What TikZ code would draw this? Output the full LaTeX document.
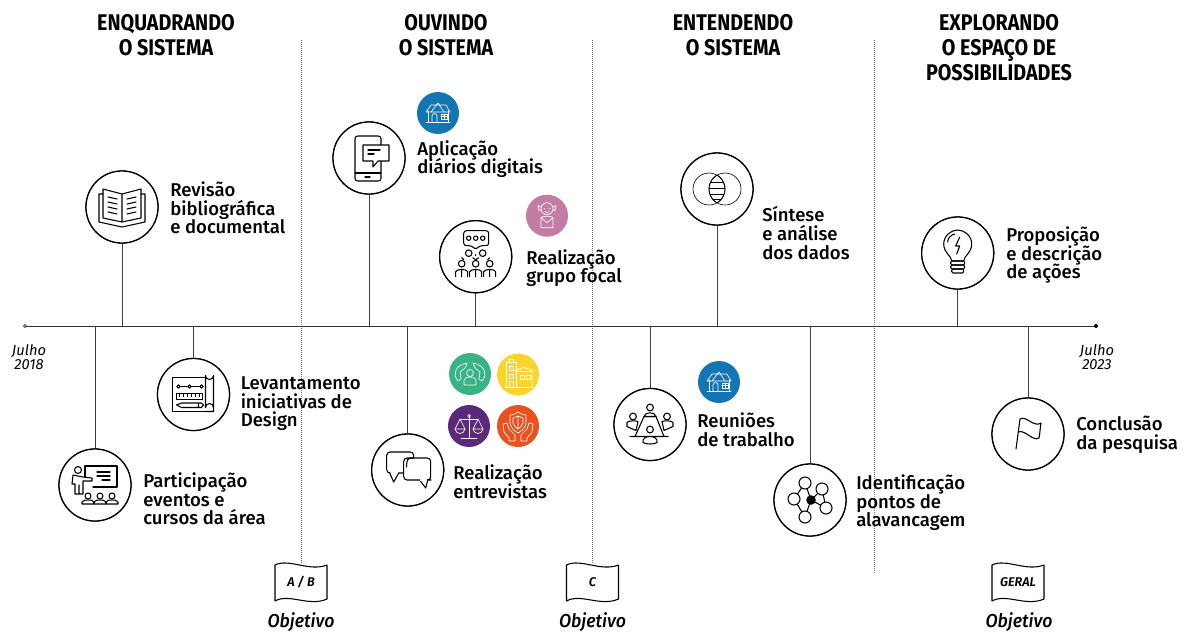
\documentclass[tikz,border=0pt]{standalone}
\usepackage{fontspec}
\setmainfont{Fira Sans}
\setlength{\lineskiplimit}{-20pt}
\newfontfamily\lblfont{Fira Sans}[UprightFont=* Medium,ItalicFont=* SemiBold Italic]
\newfontfamily\headfont{Fira Sans}[UprightFont=* Bold,FakeStretch=0.87]
\newfontfamily\litfont{Fira Sans}[ItalicFont=* Italic]
\newfontfamily\objfont{Fira Sans}[ItalicFont=* Medium Italic,FakeStretch=0.95]
\definecolor{cblue}{RGB}{20,117,181}
\definecolor{cpink}{RGB}{195,124,163}
\definecolor{cgreen}{RGB}{55,179,132}
\definecolor{cyellow}{RGB}{253,211,46}
\definecolor{cpurple}{RGB}{90,42,120}
\definecolor{corange}{RGB}{233,81,31}
\tikzset{
 ring/.style={circle,draw=black,line width=.95pt,minimum size=54pt,inner sep=0pt,fill=white},
 badge/.style={circle,minimum size=31.5pt,inner sep=0pt,fill=#1},
 lbl/.style={anchor=west,align=left,inner sep=0pt,font=\lblfont\fontsize{13.9}{13.9}\selectfont},
 head/.style={align=center,inner sep=0pt,font=\headfont\fontsize{17}{19}\selectfont},
 dates/.style={align=center,inner sep=0pt,font=\litfont\itshape\fontsize{11}{10.5}\selectfont},
 obj/.style={inner sep=0pt,font=\objfont\itshape\fontsize{14}{14}\selectfont},
 flagtxt/.style={inner sep=0pt,font=\lblfont\itshape\fontsize{9.5}{10}\selectfont},
 stem/.style={line width=.55pt,draw=black!75},
 sep/.style={line width=.5pt,draw=black!55,densely dotted},
 ik/.style={line width=.8pt,draw=black,line join=round,line cap=round},
 wk/.style={line width=.5pt,draw=white,line join=round,line cap=round},
 pics/housei/.style={code={
   \draw[wk] (-12,9)--(12,9) (-10,9)--(-10,-2) (10,9)--(10,-2);
   \draw[wk] (-12,-1)--(-7,-8)--(8,-8)--(12,-1)--(-12,-1);
   \draw[wk] (-7,-1)--(0,-10)--(6,-1);
   \draw[wk] (-6,9)--(-6,3) arc[start angle=180,end angle=360,radius=2.5] --(-1,9);
   \draw[wk] (3,1) rectangle (9,6) (6,1)--(6,6) (3,3.5)--(9,3.5);
 }},
 pics/bookicon/.style={code={
   \draw[ik] (0,-13)--(-19,-18)--(-19,11)--(0,15)--(19,11)--(19,-18)--cycle (0,-13)--(0,15);
   \draw[ik] (-19,-13)--(-23,-13)--(-23,15)--(0,20)--(23,15)--(23,-13)--(19,-13);
   \foreach \y in {-10,-5,0,5}{\draw[ik] (-14,\y)--(-5,\y+2) (14,\y)--(5,\y+2);}
 }},
 pics/planicon/.style={code={
   \draw[ik] (12,-17)--(-21,-17)--(-21,17)--(12,17) ;
   \draw[ik] (12,13)--(12,-19) arc[start angle=180,end angle=0,radius=4] --(20,15)--(20,17)--(12,17) ;
   \draw[ik] (12,13) arc[start angle=-180,end angle=0,radius=4];
   \draw[ik] (-16,-8)--(9,-8);
   \foreach \x in {-15,-4,8}{\draw[ik,fill=white] (\x,-8) circle[radius=1.7];}
   \draw[ik] (-17,-1) rectangle (9,5);
   \foreach \x in {-14,-10,-6,-2,2,6}{\draw[ik] (\x,-1)--(\x,2);}
   \draw[ik] (-12,8.5)--(8,8.5)--(10,10.5)--(8,13)--(-12,13)--(-17,10.5)--cycle (5,8.5)--(5,13);
 }},
 pics/classicon/.style={code={
   \draw[ik] (-10,-8)--(-10,-19)--(22,-19)--(22,2)--(-2,2);
   \draw[ik] (2,-13)--(15,-13) (2,-9)--(15,-9) (7,-5)--(15,-5);
   \draw[ik] (-17,-15) circle[radius=3.5];
   \draw[ik] (-3,-7)--(-12,-8)--(-22,-10)--(-23,-1)--(-20,-1)--(-20,9)--(-12,9)--(-12,-4)--(-3,-4)--cycle (-16,0)--(-16,9);
   \foreach \x in {-7,5,17}{
    \draw[ik] (\x,11) circle[radius=3];
    \draw[ik] (\x-6,19)--(\x-6,17) .. controls (\x-5,15) and (\x-2,15) .. (\x,15) .. controls (\x+2,15) and (\x+5,15) .. (\x+6,17)--(\x+6,19)--cycle;}
 }},
 pics/phoneicon/.style={code={
   \draw[ik,rounded corners=2pt] (-14,-22) rectangle (12,23);
   \draw[ik] (-14,15)--(12,15) (-4,19)--(1,19);
   \draw[ik,fill=white] (-6,-13)--(20,-13)--(20,3)--(9,3)--(4,9)--(4,3)--(-6,3)--cycle;
   \draw[ik] (-1,-8)--(11,-8) (-1,-4)--(5,-4);
 }},
 pics/focalicon/.style={code={
   \draw[ik,rounded corners=2pt] (-12,-26)--(13,-26)--(13,-11)--(4,-11)--(0,-7)--(-4,-11)--(-12,-11)--cycle;
   \foreach \x in {-7,0,7}{\draw[ik] (\x,-18.5) circle[radius=2.2];}
   \foreach \x in {-7,7}{\draw[ik] (\x,-3.5) circle[radius=3.3];}
   \foreach \x in {-14,0,14}{
     \draw[ik] (\x,7) circle[radius=3.3];
     \draw[ik] (\x-6,20)--(\x-6,15) .. controls (\x-5,12) and (\x+5,12) .. (\x+6,15)--(\x+6,20) (\x,14)--(\x,20);}
   \draw[ik] (-12,3)--(-14,1) (12,3)--(14,1) (-3,1)--(0,3)--(3,1) (0,-2)--(0,-1);
 }},
 pics/talkicon/.style={code={
   \draw[ik,rounded corners=2.5pt] (-9,3)--(6,3)--(6,-18)--(-21,-18)--(-21,3)--(-18,3);
   \draw[ik] (-18,3)--(-14,12)--(-9,3);
   \draw[ik,fill=white,rounded corners=2.5pt] (12,10)--(-4,10)--(-4,-12)--(23,-12)--(23,10)--(20,10)--(12,10);
   \draw[ik,fill=white] (12,10)--(18,18)--(20,10);
   \draw[line width=1.2pt,draw=white] (12.5,10)--(19.5,10);
   \draw[ik,rounded corners=2pt] (6,-12)--(1,-12)--(-1,-9)--(-1,-3);
 }},
 pics/meeticon/.style={code={
   \draw[ik] (-6,-8)--(6,-8)--(14,12)--(-15,12)--cycle (-15,12)--(-20,12) (14,12)--(18,12);
   \foreach \p in {(0,-17),(-17,-8),(17,-8),(0,5)}{\draw[ik,fill=white] \p circle[radius=3.4];}
   \draw[ik,fill=white] (-6,-8) .. controls (-5,-13) and (5,-13) .. (6,-8)--cycle;
   \draw[ik,fill=white] (-7,18) .. controls (-9,10) and (9,10) .. (7,18) .. controls (5,20) and (-5,20) .. (-7,18) --cycle;
   \draw[ik,fill=white] (-23,2)--(-23,-2) .. controls (-22,-4) and (-14,-4) .. (-12,-3)--(-14,6)--cycle;
   \draw[ik,fill=white] (23,2)--(23,-2) .. controls (22,-4) and (14,-4) .. (12,-3)--(14,6)--cycle;
 }},
 pics/neticon/.style={code={
   \draw[ik] (-5,-17)--(1,0)--(-5,17)--(-16,-1)--(-5,-17) (12,-11)--(1,0)--(16,8)--(12,-11);
   \foreach \p in {(-5,-17),(-16,-1),(12,-11),(16,8),(-5,17)}{\draw[ik,fill=white] \p circle[radius=6];}
   \fill[black] (1,0) circle[radius=4.8];
 }},
 pics/vennicon/.style={code={
   \draw[line width=.45pt,draw=black] (-8,0) circle[radius=16] (8,0) circle[radius=16];
   \begin{scope}
   \clip (-8,0) circle[radius=16];
   \clip (8,0) circle[radius=16];
   \foreach \y in {-7,-1,5,10.5}{\draw[line width=.6pt,draw=black] (-9,\y)--(9,\y);}
   \end{scope}
   \begin{scope}
   \clip (-8,0) circle[radius=16];
   \draw[line width=.6pt,draw=black] (8,0) circle[radius=16];
   \end{scope}
   \begin{scope}
   \clip (8,0) circle[radius=16];
   \draw[line width=.6pt,draw=black] (-8,0) circle[radius=16];
   \end{scope}
 }},
 pics/lampicon/.style={code={
   \draw[ik] (-6,8) .. controls (-6,3) and (-14,0) .. (-14,-9) .. controls (-14,-17) and (-7,-23) .. (0,-23) .. controls (7,-23) and (14,-17) .. (14,-9) .. controls (14,0) and (6,3) .. (6,8)--cycle;
   \draw[ik] (-10,-11) .. controls (-10,-15) and (-7,-18) .. (-3,-19);
   \draw[ik] (2,-16)--(-2,-7)--(2,-7)--(-1,1);
   \draw[ik,rounded corners=1pt] (-7,8) rectangle (7,12);
   \draw[ik,rounded corners=1pt] (-7,12) rectangle (7,16);
   \draw[ik,rounded corners=1pt] (-6,16) rectangle (6,20);
 }},
 pics/flagicon/.style={code={
   \draw[ik] (-12,15)--(-8,-15) .. controls (-2,-19) and (6,-6) .. (13,-11) .. controls (12,-6) and (12,0) .. (11,4) .. controls (5,8) and (-3,-5) .. (-10,-2);
 }},
 pics/bannericon/.style={code={
   \draw[line width=.8pt,draw=black,line join=round] (-26,-17) .. controls (-12,-24) and (8,-10) .. (26,-17) -- (26,17) .. controls (8,25) and (-12,11) .. (-26,19) -- cycle;
 }},
}
\begin{document}
\begin{tikzpicture}[x=.75pt,y=-.75pt]
\useasboundingbox (0,0) rectangle (1185,633);
% separators
\coordinate (s1t) at (301,40); \coordinate (s1b) at (301,563);
\coordinate (s2t) at (592,40); \coordinate (s2b) at (592,563);
\coordinate (s3t) at (874,40); \coordinate (s3b) at (874,573);
\draw[sep] (s1t)--(s1b);
\draw[sep] (s2t)--(s2b);
\draw[sep] (s3t)--(s3b);
% axis
\coordinate (axL) at (25,326); \coordinate (axR) at (1096,326);
\draw[line width=.6pt,draw=black!80] (axL)--(axR);
\draw[line width=.4pt,fill=white] (axL) circle[radius=1.6];
\fill (axR) circle[radius=2];
% rings
\node[ring] (book) at (122,207) {};
\node[ring] (plan) at (193.5,394.5) {};
\node[ring] (cls) at (95,485) {};
\node[ring] (phone) at (369,158) {};
\node[ring] (focal) at (475.7,256.7) {};
\node[ring] (talk) at (407.7,470) {};
\node[ring] (meet) at (650,424.5) {};
\node[ring] (net) at (810,500) {};
\node[ring] (venn) at (717,189) {};
\node[ring] (lamp) at (957.7,253) {};
\node[ring] (flag) at (1028,434) {};
% stems
\foreach \n in {book,plan,cls,phone,focal,talk,meet,net,venn,lamp,flag}{
  \draw[stem] (\n) -- (\n |- axL);
}
\foreach \n in {book,plan,cls,phone,focal,talk,meet,net,venn,lamp,flag}{
  \node[ring] at (\n) {};
}
\pic at (book) {bookicon};
\pic at (plan) {planicon};
\pic at (cls) {classicon};
\pic at (phone) {phoneicon};
\pic at (focal) {focalicon};
\pic at (talk) {talkicon};
\pic at (meet) {meeticon};
\pic at (net) {neticon};
\pic at (venn) {vennicon};
\pic at (lamp) {lampicon};
\pic at (flag) {flagicon};
% badges
\node[badge=cblue] (b1) at (438,113) {};
\pic at (b1) {housei};
\node[badge=cblue] (b2) at (719,382) {};
\pic at (b2) {housei};
\node[badge=cpink] (bp) at (547,215.7) {};
\begin{scope}[shift={(bp)}]
 \draw[wk] (0,-7) circle[radius=6] (-6,-9)--(-9,-10)--(-8,-5)--(-6,-6) (6,-9)--(9,-10)--(8,-5)--(6,-6);
 \draw[wk] (-3,-7)--(-2,-7) (2,-7)--(3,-7) (-2,-4) .. controls (-1,-3) and (1,-3) .. (2,-4);
 \draw[wk] (-6,2) .. controls (-5,0) and (5,0) .. (6,2)--(6,12)--(-6,12)--cycle (-6,2)--(0,7)--(6,2);
\end{scope}
\node[badge=cgreen] (bg) at (470,374) {};
\begin{scope}[shift={(bg)}]
 \draw[wk] (0,-1) circle[radius=3.5] (-6,11)--(-6,6) .. controls (-5,2) and (5,2) .. (6,6)--(6,11)--cycle;
 \draw[wk] (-15,2)--(-14,-4) .. controls (-12,-8) and (-8,-10) .. (-3,-11)--(-5,-6)--(-10,-2)--(-9,5)--(-12,7)--cycle;
 \draw[wk] (15,2)--(14,-4) .. controls (12,-8) and (8,-10) .. (3,-11)--(5,-6)--(10,-2)--(9,5)--(12,7)--cycle;
\end{scope}
\node[badge=cyellow] (by) at (518,374.5) {};
\begin{scope}[shift={(by)}]
 \draw[wk] (-12,13)--(-12,-12)--(-2,-12)--(-2,13) (-13,13)--(15,13) (-9,-12)--(-9,-15)--(-5,-15)--(-5,-12);
 \draw[wk] (-2,-3)--(14,-3)--(14,13) (-3,-4)--(6,-7)--(15,-4);
 \draw[wk] (-9,-8) rectangle (-5,-4) (-9,0) rectangle (-5,4) (2,1) rectangle (6,5) (8,1) rectangle (12,5) (-9,13)--(-9,7)--(-5,7)--(-5,13);
\end{scope}
\node[badge=cpurple] (bv) at (469,426) {};
\begin{scope}[shift={(bv)}]
 \draw[wk] (0,-11)--(0,12) (-8,12)--(8,12) (-9,-7)--(9,-7);
 \draw[wk] (0,-10) circle[radius=1.5];
 \draw[wk] (-9,-7)--(-14,3) (-9,-7)--(-4,3) (9,-7)--(4,3) (9,-7)--(14,3);
 \draw[wk] (-14,3) .. controls (-13,9) and (-5,9) .. (-4,3)--cycle (14,3) .. controls (13,9) and (5,9) .. (4,3)--cycle;
\end{scope}
\node[badge=corange] (bo) at (518,426) {};
\begin{scope}[shift={(bo)}]
 \draw[wk] (-8,-11) .. controls (-4,-11) and (-2,-13) .. (0,-14) .. controls (2,-13) and (4,-11) .. (8,-11) -- (8,-3) .. controls (7,3) and (3,5) .. (0,7) .. controls (-3,5) and (-7,3) .. (-8,-3)--cycle;
 \draw[wk] (-5,-8)--(-5,-3) .. controls (-4,0) and (-2,2) .. (0,3) .. controls (2,2) and (4,0) .. (5,-3)--(5,-8)--(0,-10)--cycle (0,-10)--(0,3);
 \draw[wk] (-15,-2)--(-14,6)--(-9,12)--(-9,15)--(-3,15)--(-3,9)--(-9,3)--(-11,-3)--cycle;
 \draw[wk] (15,-2)--(14,6)--(9,12)--(9,15)--(3,15)--(3,9)--(9,3)--(11,-3)--cycle;
\end{scope}
% headings
\node[head] (h1) at (166,35) {ENQUADRANDO\\O SISTEMA};
\node[head] (h2) at (446,35) {OUVINDO\\O SISTEMA};
\node[head] (h3) at (733,35) {ENTENDENDO\\O SISTEMA};
\node[head] (h4) at (999,47.5) {EXPLORANDO\\O ESPAÇO DE\\POSSIBILIDADES};
% labels
\node[lbl] (t1) at (170,208) {Revisão\\bibliográfica\\e documental};
\node[lbl] (t2) at (240.5,404) {Levantamento\\iniciativas de\\Design};
\node[lbl] (t3) at (143,499) {Participação\\eventos e\\cursos da área};
\node[lbl] (t4) at (417,159) {Aplicação\\diários digitais};
\node[lbl] (t5) at (526,268) {Realização\\grupo focal};
\node[lbl] (t6) at (453,482) {Realização\\entrevistas};
\node[lbl] (t7) at (697,430) {Reuniões\\de trabalho};
\node[lbl] (t8) at (856,503) {Identificação\\pontos de\\alavancagem};
\node[lbl] (t9) at (762,233) {Síntese\\e análise\\dos dados};
\node[lbl] (t10) at (1006,255) {Proposição\\e descrição\\de ações};
\node[lbl] (t11) at (1076,435) {Conclusão\\da pesquisa};
% dates
\node[dates] (d1) at (29,357) {Julho\\2018};
\node[dates] (d2) at (1097,357) {Julho\\2023};
% objectives
\coordinate (f1) at (301,582); \coordinate (f2) at (592.5,582); \coordinate (f3) at (1018,582);
\pic at (f1) {bannericon};
\pic at (f2) {bannericon};
\pic at (f3) {bannericon};
\node[flagtxt] (ft1) at (f1) {A / B};
\node[flagtxt] (ft2) at (f2) {C};
\node[flagtxt] (ft3) at (f3) {GERAL};
\node[obj] (o1) at (301,622) {Objetivo};
\node[obj] (o2) at (592.5,622) {Objetivo};
\node[obj] (o3) at (1019,622) {Objetivo};
\end{tikzpicture}
\end{document}
